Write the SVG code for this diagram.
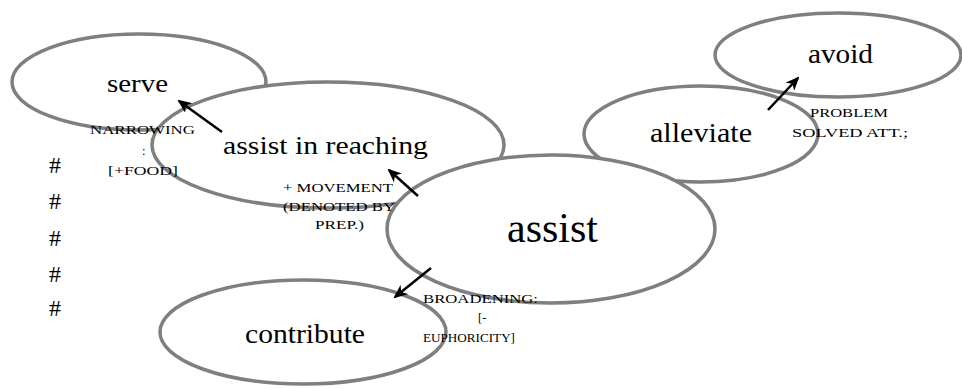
<svg xmlns="http://www.w3.org/2000/svg" width="962" height="389" viewBox="0 0 962 389">
<style>
.n{fill:#fff;stroke:#7f7f7f;stroke-width:3.5}
text{font-family:'Times New Roman','Liberation Serif',serif;fill:#000}
.lbl{font-size:12.5px}
.a{stroke:#000;stroke-width:2.5;fill:none;marker-end:url(#ah)}
</style>
<defs>
<marker id="ah" viewBox="0 0 14 12" refX="12" refY="6" markerWidth="14" markerHeight="12" markerUnits="userSpaceOnUse" orient="auto">
<path d="M0,0 L14,6 L0,12 L4,6 Z" fill="#000"/>
</marker>
</defs>
<rect width="962" height="389" fill="#fff"/>
<g id="node-serve">
<ellipse class="n" cx="139" cy="82" rx="127" ry="48"/>
<text x="107" y="92" font-size="26" textLength="61" lengthAdjust="spacingAndGlyphs">serve</text>
</g>
<g id="node-assist-in-reaching">
<ellipse class="n" cx="328" cy="145" rx="176" ry="63"/>
<text x="223" y="154" font-size="26" textLength="205" lengthAdjust="spacingAndGlyphs">assist in reaching</text>
</g>
<g id="node-alleviate">
<ellipse class="n" cx="701" cy="134" rx="117" ry="48"/>
<text x="650" y="142" font-size="28" textLength="102" lengthAdjust="spacingAndGlyphs">alleviate</text>
</g>
<g id="node-avoid">
<ellipse class="n" cx="838" cy="55" rx="123" ry="42"/>
<text x="808" y="63" font-size="28" textLength="65" lengthAdjust="spacingAndGlyphs">avoid</text>
</g>
<g id="node-contribute">
<ellipse class="n" cx="303" cy="332" rx="143" ry="52"/>
<text x="245" y="343" font-size="27" textLength="120" lengthAdjust="spacingAndGlyphs">contribute</text>
</g>
<g id="node-assist">
<ellipse class="n" cx="551" cy="229" rx="164" ry="74"/>
<text x="507" y="242" font-size="42" textLength="91" lengthAdjust="spacingAndGlyphs">assist</text>
</g>
<g id="connectors">
<line class="a" x1="222" y1="132" x2="179" y2="101"/>
<line class="a" x1="418" y1="196" x2="389" y2="170"/>
<line class="a" x1="431" y1="268" x2="395" y2="297"/>
<line class="a" x1="768" y1="110" x2="798" y2="78"/>
<text class="lbl" x="90" y="134" textLength="105" lengthAdjust="spacingAndGlyphs">NARROWING</text>
<text class="lbl" x="142" y="155">:</text>
<text class="lbl" x="108" y="175" textLength="70" lengthAdjust="spacingAndGlyphs">[+FOOD]</text>
<text class="lbl" x="283" y="192" textLength="110" lengthAdjust="spacingAndGlyphs">+ MOVEMENT</text>
<text class="lbl" x="283" y="211" textLength="112" lengthAdjust="spacingAndGlyphs">(DENOTED BY</text>
<text class="lbl" x="315" y="229" textLength="49" lengthAdjust="spacingAndGlyphs">PREP.)</text>
<text class="lbl" x="423" y="303" textLength="115" lengthAdjust="spacingAndGlyphs">BROADENING:</text>
<text class="lbl" x="478" y="322">[-</text>
<text class="lbl" x="423" y="342" textLength="92" lengthAdjust="spacingAndGlyphs">EUPHORICITY]</text>
<text class="lbl" x="810" y="117" textLength="78" lengthAdjust="spacingAndGlyphs">PROBLEM</text>
<text class="lbl" x="792" y="137" textLength="116" lengthAdjust="spacingAndGlyphs">SOLVED ATT.;</text>
</g>
<g id="hashes" font-size="24">
<text x="49" y="173">#</text>
<text x="49" y="209">#</text>
<text x="49" y="246">#</text>
<text x="49" y="282">#</text>
<text x="49" y="316">#</text>
</g>
</svg>
